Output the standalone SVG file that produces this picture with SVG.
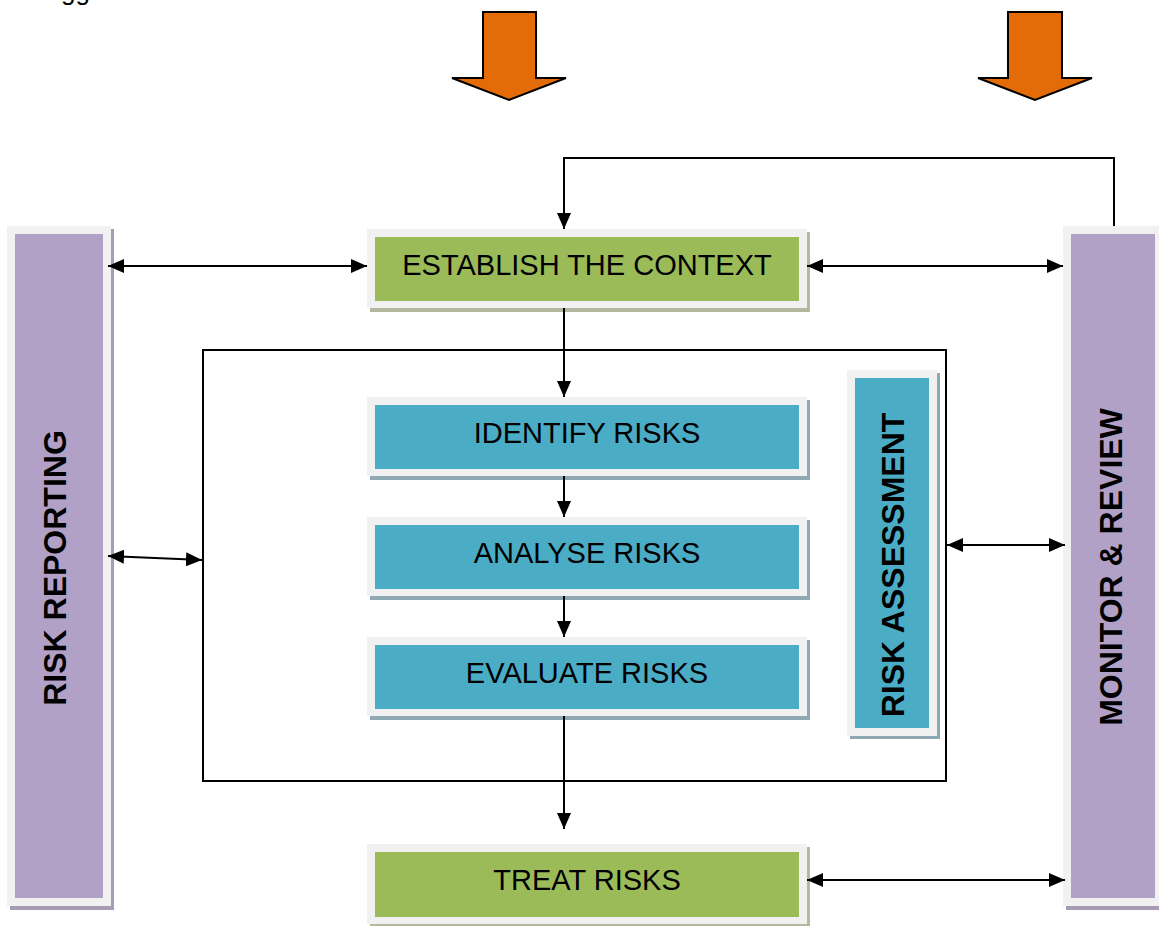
<svg xmlns="http://www.w3.org/2000/svg" width="1159" height="926" viewBox="0 0 1159 926">
<style>
  .lbl { font-family: "Liberation Sans", Arial, sans-serif; font-size: 29px; fill: #000; text-anchor: middle; }
  .vlbl { font-family: "Liberation Sans", Arial, sans-serif; font-size: 32px; font-weight: bold; fill: #000; text-anchor: middle; }
  .frame { fill: #f1f1f1; }
  .green { fill: #9bbb59; }
  .blue { fill: #4bacc6; }
  .purple { fill: #b2a1c7; }
  .sh-green { fill: #b3b99e; }
  .sh-blue { fill: #8fa9b4; }
  .sh-purple { fill: #a89cb5; }
  .conn { stroke: #000; stroke-width: 2; fill: none; }
  .orange { fill: #e36c09; stroke: #000; stroke-width: 2; }
</style>
<defs>
  <marker id="ah" viewBox="0 0 16 14" refX="16" refY="7" markerWidth="16" markerHeight="14" markerUnits="userSpaceOnUse" orient="auto-start-reverse">
    <path d="M0,0 L16,7 L0,14 Z" fill="#000"/>
  </marker>
</defs>
<rect width="1159" height="926" fill="#fff"/>
<text x="61" y="0" style="font-family:'Liberation Sans',Arial,sans-serif;font-size:26px">gg</text>

<g id="input-arrow-1">
  <polygon class="orange" points="483,12 536,12 536,78 566,78 509,100 452,78 483,78"/>
</g>
<g id="input-arrow-2">
  <polygon class="orange" points="1008,12 1062,12 1062,78 1092,78 1035,100 978,78 1008,78"/>
</g>

<g id="assessment-frame">
  <rect x="203" y="350" width="743" height="431" fill="none" stroke="#000" stroke-width="2"/>
</g>

<g id="risk-reporting">
  <rect class="sh-purple" x="10" y="229" width="104" height="681"/>
  <rect class="frame" x="7" y="226" width="104" height="680"/>
  <rect class="purple" x="15" y="234" width="88" height="664"/>
  <text class="vlbl" transform="translate(66,568) rotate(-90)">RISK REPORTING</text>
</g>

<g id="monitor-review">
  <rect class="sh-purple" x="1066" y="229" width="100" height="681"/>
  <rect class="frame" x="1063" y="226" width="100" height="680"/>
  <rect class="purple" x="1071" y="234" width="84" height="664"/>
  <text class="vlbl" transform="translate(1122,567) rotate(-90)">MONITOR &amp; REVIEW</text>
</g>

<g id="establish-context">
  <rect class="sh-green" x="370" y="232" width="440" height="80"/>
  <rect class="frame" x="367" y="229" width="440" height="79"/>
  <rect class="green" x="375" y="237" width="424" height="64"/>
  <text class="lbl" x="587" y="275">ESTABLISH THE CONTEXT</text>
</g>

<g id="identify-risks">
  <rect class="sh-blue" x="370" y="400" width="440" height="80"/>
  <rect class="frame" x="367" y="397" width="440" height="79"/>
  <rect class="blue" x="375" y="405" width="424" height="64"/>
  <text class="lbl" x="587" y="443">IDENTIFY RISKS</text>
</g>

<g id="analyse-risks">
  <rect class="sh-blue" x="370" y="520" width="440" height="80"/>
  <rect class="frame" x="367" y="517" width="440" height="79"/>
  <rect class="blue" x="375" y="525" width="424" height="64"/>
  <text class="lbl" x="587" y="563">ANALYSE RISKS</text>
</g>

<g id="evaluate-risks">
  <rect class="sh-blue" x="370" y="640" width="440" height="80"/>
  <rect class="frame" x="367" y="637" width="440" height="79"/>
  <rect class="blue" x="375" y="645" width="424" height="64"/>
  <text class="lbl" x="587" y="683">EVALUATE RISKS</text>
</g>

<g id="risk-assessment">
  <rect class="sh-blue" x="850" y="373" width="90" height="366"/>
  <rect class="frame" x="847" y="370" width="90" height="366"/>
  <rect class="blue" x="855" y="378" width="74" height="350"/>
  <text class="vlbl" transform="translate(904,565) rotate(-90)">RISK ASSESSMENT</text>
</g>

<g id="treat-risks">
  <rect class="sh-green" x="370" y="847" width="440" height="81"/>
  <rect class="frame" x="367" y="844" width="440" height="80"/>
  <rect class="green" x="375" y="852" width="424" height="65"/>
  <text class="lbl" x="587" y="890">TREAT RISKS</text>
</g>

<g id="connectors">
  <polyline class="conn" points="1114,226 1114,158 564,158 564,229" marker-end="url(#ah)"/>
  <line class="conn" x1="108" y1="266" x2="367" y2="266" marker-start="url(#ah)" marker-end="url(#ah)"/>
  <line class="conn" x1="807" y1="266" x2="1063" y2="266" marker-start="url(#ah)" marker-end="url(#ah)"/>
  <line class="conn" x1="564" y1="308" x2="564" y2="397" marker-end="url(#ah)"/>
  <line class="conn" x1="564" y1="476" x2="564" y2="517" marker-end="url(#ah)"/>
  <line class="conn" x1="564" y1="596" x2="564" y2="637" marker-end="url(#ah)"/>
  <line class="conn" x1="564" y1="716" x2="564" y2="829" marker-end="url(#ah)"/>
  <line class="conn" x1="108" y1="556" x2="202" y2="560" marker-start="url(#ah)" marker-end="url(#ah)"/>
  <line class="conn" x1="947" y1="545" x2="1065" y2="545" marker-start="url(#ah)" marker-end="url(#ah)"/>
  <line class="conn" x1="807" y1="880" x2="1065" y2="880" marker-start="url(#ah)" marker-end="url(#ah)"/>
</g>
</svg>
